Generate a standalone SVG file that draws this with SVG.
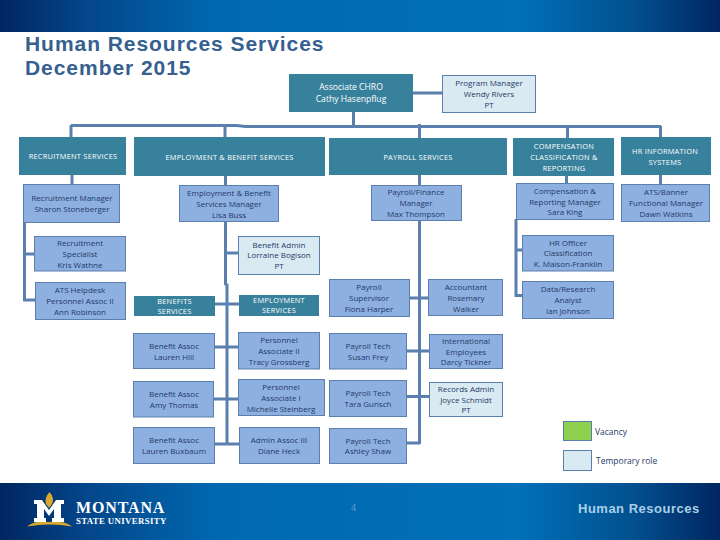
<svg xmlns="http://www.w3.org/2000/svg" width="720" height="540" viewBox="0 0 720 540">
<style>
text{font-family:"Open Sans","DejaVu Sans",sans-serif;font-size:8px;text-anchor:middle}
.h rect{fill:#38819c}
.h text{fill:#fff;font-size:7.4px;letter-spacing:.25px}
.n rect{fill:#8eb0e0;stroke:#5b7fae;stroke-width:1}
.n text{fill:#1f3a68}
.p rect{fill:#daeaf3;stroke:#5b7fae;stroke-width:1}
.p text{fill:#1f3a68}
#connectors path{fill:none;stroke:#5b7fae;stroke-width:3}
.title{font-family:"Liberation Sans",Arial,sans-serif;font-weight:700;font-size:21px;fill:#35608f;text-anchor:start;letter-spacing:.95px}
.lg{fill:#1f3a68;font-size:8.5px;text-anchor:start}
.mark{font-family:"Liberation Serif",serif;font-weight:700;fill:#fff;text-anchor:start}
</style>
<defs>
<linearGradient id="band" x1="0" x2="1" y1="0" y2="0"><stop offset="0" stop-color="#012660"/><stop offset=".12" stop-color="#04468a"/><stop offset=".3" stop-color="#0068b0"/><stop offset=".72" stop-color="#0070b8"/><stop offset=".88" stop-color="#03508f"/><stop offset="1" stop-color="#012660"/></linearGradient>
</defs>
<rect width="720" height="540" fill="#fff"/>
<rect id="header" width="720" height="32" fill="url(#band)"/>
<rect id="footer" y="483" width="720" height="57" fill="url(#band)"/>
<text class="title" x="25" y="51">Human Resources Services</text>
<text class="title" x="25" y="75">December 2015</text>
<g id="connectors">
<path d="M413 93H442M353.500 112V126.500M71 125.500H237M245 126.500H661M71 125V137M225 125V137M419.500 124V138M567.500 126V138M660.500 126V137M237 125.500L245 126.500"/>
<path d="M72 175V184M24.500 222V300H35M24.500 254H34"/>
<path d="M225.500 176V185M225.500 221V284L227 285V444M225 253H238M215 304H239M215 347H238M213 399H238M215 444H239"/>
<path d="M419.500 175V185M419.500 220V444M409 298H428M406 351H429M406 396.500H429M406 443H420"/>
<path d="M566.500 176V183M516 219V295.500H522M516 250H522M660.500 175V184"/>
</g>
<g id="chro" class="h"><rect x="289" y="74" width="124" height="38"/><text x="351" y="90" style="font-size:8.600px;letter-spacing:0">Associate CHRO</text><text x="351" y="102" style="font-size:8.600px;letter-spacing:0">Cathy Hasenpflug</text></g>
<g id="program-manager" class="p"><rect x="442.500" y="75.500" width="93" height="37"/><text x="489" y="86">Program Manager</text><text x="489" y="97">Wendy Rivers</text><text x="489" y="108">PT</text></g>
<g id="recruitment-services" class="h"><rect x="19" y="137" width="107" height="38"/><text x="73" y="159">RECRUITMENT SERVICES</text></g>
<g id="employment-benefit-services" class="h"><rect x="134" y="137" width="191" height="39"/><text x="229.500" y="160">EMPLOYMENT &amp; BENEFIT SERVICES</text></g>
<g id="payroll-services" class="h"><rect x="329" y="138" width="178" height="37"/><text x="418" y="160">PAYROLL SERVICES</text></g>
<g id="compensation" class="h"><rect x="513" y="138" width="101" height="38"/><text x="564" y="149">COMPENSATION</text><text x="564" y="160">CLASSIFICATION &amp;</text><text x="564" y="171">REPORTING</text></g>
<g id="hr-information" class="h"><rect x="621" y="137" width="90" height="38"/><text x="665" y="154">HR INFORMATION</text><text x="665" y="165">SYSTEMS</text></g>
<g id="recruitment-manager" class="n"><rect x="23.500" y="184.500" width="96" height="38"/><text x="72" y="201">Recruitment Manager</text><text x="72" y="212">Sharon Stoneberger</text></g>
<g id="employment-manager" class="n"><rect x="179.500" y="185.500" width="99" height="36"/><text x="229" y="196">Employment &amp; Benefit</text><text x="229" y="207">Services Manager</text><text x="229" y="218">Lisa Buss</text></g>
<g id="payroll-manager" class="n"><rect x="371.500" y="185.500" width="90" height="35"/><text x="416" y="195">Payroll/Finance</text><text x="416" y="206">Manager</text><text x="416" y="217">Max Thompson</text></g>
<g id="comp-manager" class="n"><rect x="516.500" y="183.500" width="97" height="36"/><text x="565" y="194">Compensation &amp;</text><text x="565" y="205">Reporting Manager</text><text x="565" y="215">Sara King</text></g>
<g id="ats-banner" class="n"><rect x="621.500" y="184.500" width="88" height="37"/><text x="666" y="195">ATS/Banner</text><text x="666" y="206">Functional Manager</text><text x="666" y="217">Dawn Watkins</text></g>
<g id="recruitment-specialist" class="n"><rect x="34.500" y="236.500" width="91" height="34.500"/><text x="80" y="246">Recruitment</text><text x="80" y="257">Specialist</text><text x="80" y="268">Kris Wathne</text></g>
<g id="ats-helpdesk" class="n"><rect x="35.500" y="282.500" width="90" height="37"/><text x="80" y="293">ATS Helpdesk</text><text x="80" y="304">Personnel Assoc II</text><text x="80" y="315">Ann Robinson</text></g>
<g id="benefit-admin" class="p"><rect x="238.500" y="236.500" width="81" height="38"/><text x="279" y="248">Benefit Admin</text><text x="279" y="258">Lorraine Bogison</text><text x="279" y="269">PT</text></g>
<g id="hr-officer" class="n"><rect x="522.500" y="235.500" width="91" height="35.500"/><text x="568" y="246">HR Officer</text><text x="568" y="256">Classification</text><text x="568" y="267">K. Maison-Franklin</text></g>
<g id="data-research" class="n"><rect x="522.500" y="281.500" width="91" height="37"/><text x="568" y="292">Data/Research</text><text x="568" y="303">Analyst</text><text x="568" y="314">Ian Johnson</text></g>
<g id="benefits-services" class="h"><rect x="134" y="296" width="81" height="20"/><text x="174.500" y="304">BENEFITS</text><text x="174.500" y="314">SERVICES</text></g>
<g id="employment-services" class="h"><rect x="239" y="295" width="80" height="21"/><text x="279" y="303">EMPLOYMENT</text><text x="279" y="313">SERVICES</text></g>
<g id="payroll-supervisor" class="n"><rect x="329.500" y="279.500" width="80" height="37"/><text x="369" y="290">Payroll</text><text x="369" y="301">Supervisor</text><text x="369" y="312">Fiona Harper</text></g>
<g id="accountant" class="n"><rect x="428.500" y="279.500" width="74" height="36"/><text x="466" y="290">Accountant</text><text x="466" y="301">Rosemary</text><text x="466" y="312">Walker</text></g>
<g id="benefit-hill" class="n"><rect x="133.500" y="333.500" width="81" height="35"/><text x="174" y="349">Benefit Assoc</text><text x="174" y="360">Lauren Hill</text></g>
<g id="personnel-2" class="n"><rect x="238.500" y="332.500" width="81" height="36.500"/><text x="279" y="343">Personnel</text><text x="279" y="354">Associate II</text><text x="279" y="365">Tracy Grossberg</text></g>
<g id="payroll-tech-frey" class="n"><rect x="329.500" y="333.500" width="77" height="35.500"/><text x="368" y="349">Payroll Tech</text><text x="368" y="360">Susan Frey</text></g>
<g id="international" class="n"><rect x="429.500" y="334.500" width="73" height="34"/><text x="466" y="344">International</text><text x="466" y="355">Employees</text><text x="466" y="365">Darcy Tickner</text></g>
<g id="benefit-thomas" class="n"><rect x="133.500" y="381.500" width="80" height="35.500"/><text x="174" y="397">Benefit Assoc</text><text x="174" y="408">Amy Thomas</text></g>
<g id="personnel-1" class="n"><rect x="238.500" y="379.500" width="86" height="36"/><text x="281" y="390">Personnel</text><text x="281" y="401">Associate I</text><text x="281" y="412">Michelle Steinberg</text></g>
<g id="payroll-tech-gunsch" class="n"><rect x="329.500" y="380.500" width="77" height="36"/><text x="368" y="396">Payroll Tech</text><text x="368" y="407">Tara Gunsch</text></g>
<g id="records-admin" class="p"><rect x="429.500" y="382.500" width="73" height="34"/><text x="466" y="392">Records Admin</text><text x="466" y="403">Joyce Schmidt</text><text x="466" y="413">PT</text></g>
<g id="benefit-buxbaum" class="n"><rect x="133.500" y="427.500" width="81" height="36"/><text x="174" y="443">Benefit Assoc</text><text x="174" y="454">Lauren Buxbaum</text></g>
<g id="admin-assoc" class="n"><rect x="239.500" y="427.500" width="80" height="36"/><text x="279" y="443">Admin Assoc III</text><text x="279" y="454">Diane Heck</text></g>
<g id="payroll-tech-shaw" class="n"><rect x="329.500" y="428.500" width="77" height="35"/><text x="368" y="444">Payroll Tech</text><text x="368" y="454">Ashley Shaw</text></g>
<g id="legend-vacancy"><rect x="563.500" y="421.500" width="28" height="19" fill="#8fd14f" stroke="#5b7fae"/><text class="lg" x="595" y="435">Vacancy</text></g>
<g id="legend-temporary"><rect x="563.500" y="450.500" width="28" height="20" fill="#daeaf3" stroke="#5b7fae"/><text class="lg" x="596" y="464">Temporary role</text></g>
<g id="logo">
<path d="M27 526.500Q33 522 38 522H60Q66 522 72 526.500Q50 522.500 27 526.500Z" fill="#d9a92e"/>
<path d="M34 500H42L49 510L56 500H64V504H61V518H64V522H52V518H54V509L49 516L44 509V518H46V522H34V518H37V504H34Z" fill="#fff"/>
<path d="M49.500 492Q44 498 46 504L49 508L52 504Q55 498 49.500 492Z" fill="#d9a92e"/>
<text class="mark" x="76" y="512.500" style="font-size:16px;letter-spacing:.85px">MONTANA</text>
<text class="mark" x="76" y="524" style="font-size:8.800px;letter-spacing:.35px">STATE UNIVERSITY</text>
</g>
<text x="353.500" y="511" style="font-size:9px" fill="#6a9bc8">4</text>
<text x="578" y="513" style="text-anchor:start;font-family:'Liberation Sans',sans-serif;font-weight:700;font-size:13px;letter-spacing:.5px" fill="#a9cfe8">Human Resources</text>
</svg>
